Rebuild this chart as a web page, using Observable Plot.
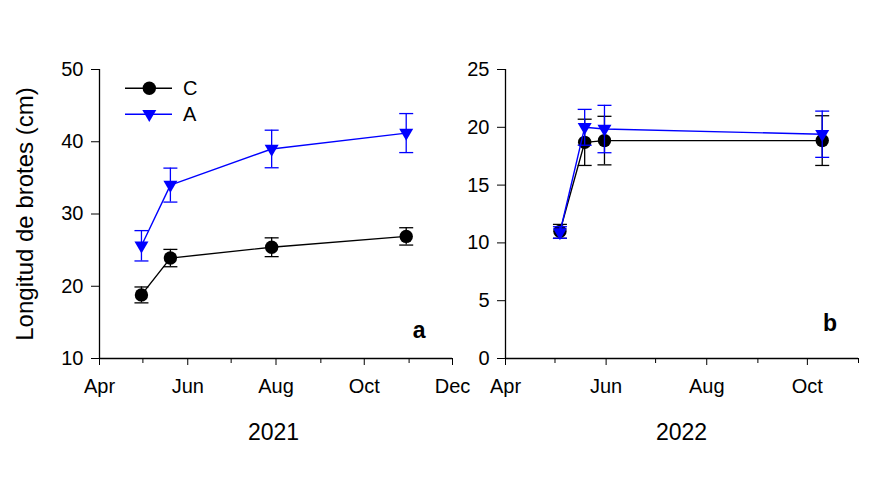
<!DOCTYPE html>
<html><head><meta charset="utf-8">
<script src="https://cdn.jsdelivr.net/npm/d3@7"></script>
<script src="https://cdn.jsdelivr.net/npm/@observablehq/plot@0.6"></script>
<style>
body{margin:0;background:#fff;}
#wrap{position:relative;width:875px;height:500px;font-family:Arial,"Liberation Sans",sans-serif;}
#wrap > svg{position:absolute;top:0;}
</style></head><body><div id="wrap"></div>
<script>
// ---- data ----
const series = ["C", "A"];
const seriesColors = ["#000000", "#0000ff"];
const dates2021 = ["2021-04-30", "2021-05-20", "2021-07-29", "2021-10-30"];
const C2021 = [18.8, 23.9, 25.4, 26.9];
const C2021err = [1.1, 1.2, 1.3, 1.2];
const A2021 = [25.6, 34.0, 39.0, 41.2];
const A2021err = [2.1, 2.35, 2.6, 2.7];
const dates2022 = ["2022-05-04", "2022-05-19", "2022-05-31", "2022-10-10"];
const C2022 = [11.0, 18.7, 18.85, 18.85];
const C2022err = [0.6, 2.0, 2.1, 2.15];
const A2022 = [10.9, 20.0, 19.85, 19.4];
const A2022err = [0.5, 1.55, 2.05, 2.0];
const yTicks2021 = [10, 20, 30, 40, 50];
const yTicks2022 = [0, 5, 10, 15, 20, 25];
const majorMonths2021 = ["2021-04-01", "2021-06-01", "2021-08-01", "2021-10-01", "2021-12-01"];
const minorMonths2021 = ["2021-05-01", "2021-07-01", "2021-09-01", "2021-11-01"];
const majorMonths2022 = ["2022-04-01", "2022-06-01", "2022-08-01", "2022-10-01"];
const minorMonths2022 = ["2022-05-01", "2022-07-01", "2022-09-01", "2022-11-01"];
const years = ["2021", "2022"];
const panelLetters = ["a", "b"];
const yLabel = "Longitud de brotes (cm)";

const FONT = 'Arial, "Liberation Sans", sans-serif';
const TICKFONT = 20;
const hcap = {draw(ctx) { ctx.moveTo(-7, 0); ctx.lineTo(7, 0); }};
const circle = {draw(ctx) { ctx.moveTo(6.7, 0); ctx.arc(0, 0, 6.7, 0, 2 * Math.PI); ctx.closePath(); }};
const triDown = {draw(ctx) { ctx.moveTo(-7, -4.3); ctx.lineTo(7, -4.3); ctx.lineTo(0, 7.7); ctx.closePath(); }};
const symbols = [circle, triDown];
const D = s => new Date(s + "T00:00:00Z");

function panel(o) {
  const vals = [[o.C, o.Cerr], [o.A, o.Aerr]];
  const marks = [
    Plot.axisY({ticks: o.yTicks, tickSize: 8, tickPadding: 8, label: null, tickFormat: d => String(d), fontSize: TICKFONT}),
    Plot.axisX({ticks: o.major.map(D), tickSize: 7, tickPadding: 13, tickFormat: d3.utcFormat("%b"), label: null, fontSize: TICKFONT}),
    Plot.axisX({ticks: o.minor.map(D), tickSize: 5, tickFormat: () => "", label: null}),
    Plot.ruleX([o.domainX[0]], {stroke: "#000", strokeWidth: 1.3}),
    Plot.ruleY([o.domainY[0]], {stroke: "#000", strokeWidth: 1.3})
  ];
  series.forEach((s, i) => {
    const rows = o.dates.map((d, j) => ({date: D(d), y: vals[i][0][j], lo: vals[i][0][j] - vals[i][1][j], hi: vals[i][0][j] + vals[i][1][j]}));
    const col = seriesColors[i];
    marks.push(
      Plot.ruleX(rows, {x: "date", y1: "lo", y2: "hi", stroke: col, strokeWidth: 1.3}),
      Plot.dot(rows, {x: "date", y: "lo", symbol: hcap, stroke: col, fill: "none", strokeWidth: 1.3}),
      Plot.dot(rows, {x: "date", y: "hi", symbol: hcap, stroke: col, fill: "none", strokeWidth: 1.3}),
      Plot.line(rows, {x: "date", y: "y", stroke: col, strokeWidth: 1.4}),
      Plot.dot(rows, {x: "date", y: "y", symbol: symbols[i], fill: col, stroke: "none", r: 6.7})
    );
  });
  marks.push(Plot.text([o.letter], {text: d => d, frameAnchor: "bottom-right", textAnchor: "end", lineAnchor: "bottom",
    dx: o.ldx, dy: o.ldy, fontWeight: "bold", fontSize: 23, fill: "#000"}));
  const svg = Plot.plot({
    width: o.width, height: 400, marginLeft: o.ml, marginRight: o.mr, marginTop: 69, marginBottom: 42,
    style: {fontFamily: FONT, fontSize: TICKFONT + "px", color: "#000", background: "transparent", overflow: "visible"},
    x: {type: "utc", domain: o.domainX},
    y: {domain: o.domainY},
    marks
  });
  svg.style.left = o.left + "px";
  return svg;
}

const wrap = document.getElementById("wrap");
wrap.appendChild(panel({
  dates: dates2021, C: C2021, Cerr: C2021err, A: A2021, Aerr: A2021err,
  domainX: [D("2021-04-01"), D("2021-12-01")], domainY: [10, 50], yTicks: yTicks2021,
  major: majorMonths2021, minor: minorMonths2021, width: 470, ml: 99, mr: 18, left: 0,
  letter: panelLetters[0], ldx: -27, ldy: -21
}));
wrap.appendChild(panel({
  dates: dates2022, C: C2022, Cerr: C2022err, A: A2022, Aerr: A2022err,
  domainX: [D("2022-04-01"), D("2022-11-01")], domainY: [0, 25], yTicks: yTicks2022,
  major: majorMonths2022, minor: minorMonths2022, width: 405, ml: 35, mr: 17, left: 470,
  letter: panelLetters[1], ldx: -21.5, ldy: -28
}));

// overlay: legend, year labels, y label
const ov = d3.select(wrap).append("svg").attr("width", 875).attr("height", 500)
  .style("left", "0px").style("pointer-events", "none").style("font-family", FONT);
series.forEach((s, i) => {
  const y = 88.3 + i * 26;
  const g = ov.append("g");
  g.append("line").attr("x1", 125).attr("x2", 172).attr("y1", y).attr("y2", y).attr("stroke", seriesColors[i]).attr("stroke-width", 1.4);
  g.append("path").attr("transform", `translate(149.3,${y})`).attr("d", d3.symbol(symbols[i])()).attr("fill", seriesColors[i]);
  g.append("text").attr("x", 183).attr("y", y + 6.5).attr("font-size", 20).attr("fill", "#000").text(s);
});
[[273.5, years[0]], [681.5, years[1]]].forEach(([x, t]) => {
  ov.append("text").attr("x", x).attr("y", 440).attr("text-anchor", "middle").attr("font-size", 23).attr("fill", "#000").text(t);
});
ov.append("text").attr("transform", "translate(33,214) rotate(-90)").attr("text-anchor", "middle")
  .attr("font-size", 24).attr("fill", "#000").text(yLabel);
</script></body></html>
